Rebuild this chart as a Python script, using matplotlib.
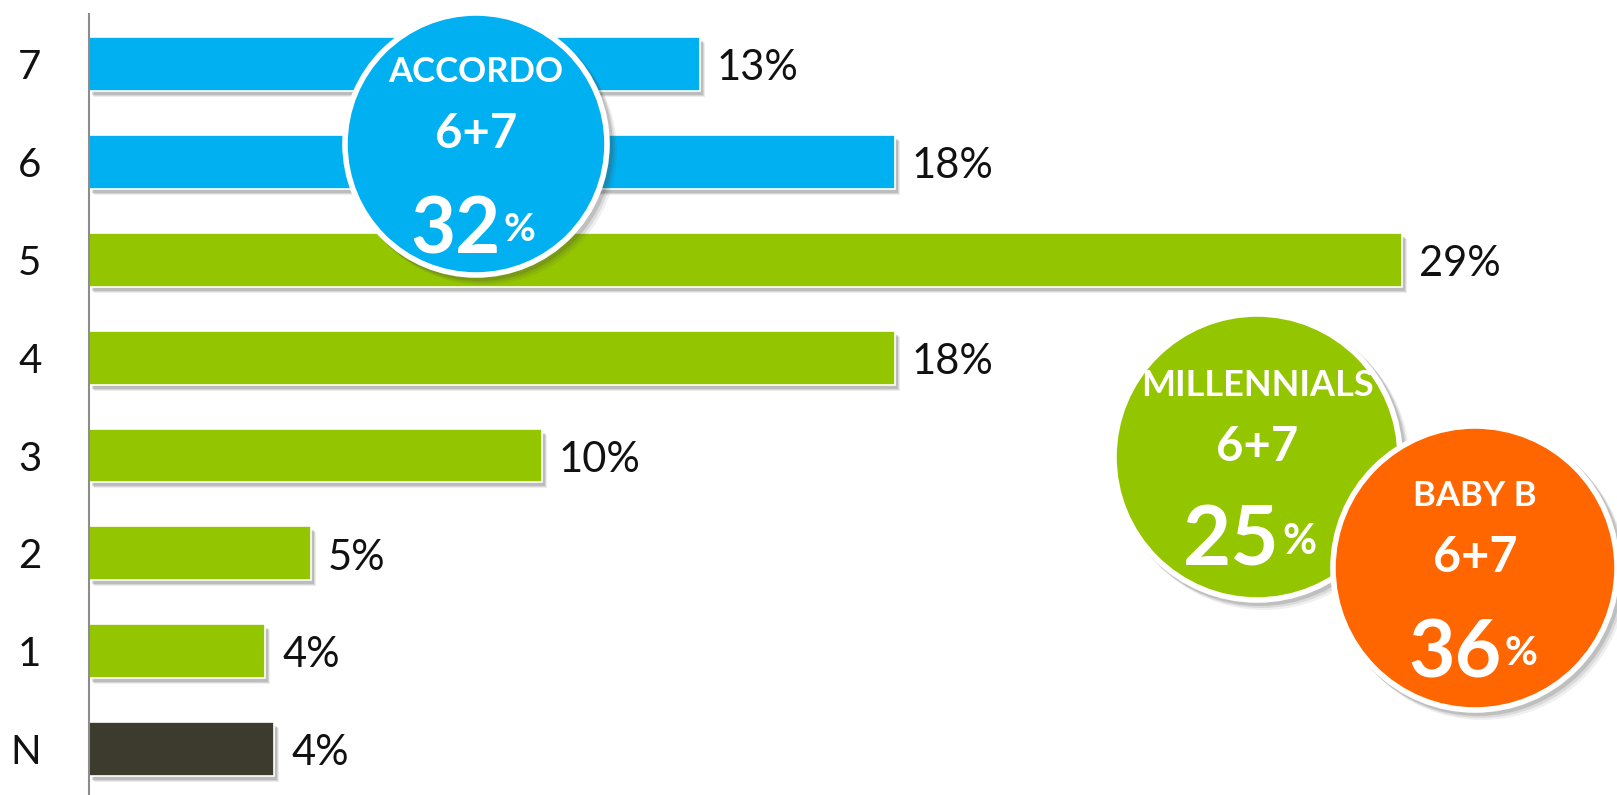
import matplotlib
matplotlib.use('Agg')
import matplotlib.pyplot as plt
import matplotlib.patches as mpatches
import matplotlib.transforms as mtransforms

plt.rcParams['font.family'] = ['Lato', 'DejaVu Sans']

# data
categories = ['7', '6', '5', '4', '3', '2', '1', 'N']
values = [13.5, 17.8, 29.0, 17.8, 10.0, 4.9, 3.9, 4.1]
value_labels = ['13%', '18%', '29%', '18%', '10%', '5%', '4%', '4%']
bar_colors = ['#00B0F0', '#00B0F0', '#94C600', '#94C600', '#94C600',
              '#94C600', '#94C600', '#3D3A2E']

# summary bubbles
bubble_titles = ['ACCORDO', 'MILLENNIALS', 'BABY B']
bubble_sub = ['6+7', '6+7', '6+7']
bubble_values = ['32', '25', '36']
bubble_colors = ['#00B0F0', '#94C600', '#FF6600']

W, H = 1617, 795
fig = plt.figure(figsize=(W / 100, H / 100), dpi=100)

# main bar axes
ax = fig.add_axes([88.7 / W, 0, 1 - 88.7 / W, 1 - 14.4 / H])
ypos = list(range(len(categories)))

# soft drop shadow under the bars
for dx, dy, a in [(5, -6, 0.10), (4, -5, 0.15), (3, -4, 0.20)]:
    off = mtransforms.offset_copy(ax.transData, fig=fig, x=dx, y=dy, units='dots')
    ax.barh(ypos, values, height=0.55, color='#555555', alpha=a,
            transform=off, zorder=1)

ax.barh(ypos, values, height=0.55, color=bar_colors, edgecolor='white',
        linewidth=1.2, zorder=2)

for y, v, lab in zip(ypos, values, value_labels):
    ax.annotate(lab, (v, y), xytext=(12, -3), textcoords='offset points',
                ha='left', va='center', fontsize=30, color='#111111')

ax.set_xlim(0, (W - 88.7) / 45.3)
ax.set_ylim(7.47, -0.51)
ax.set_yticks(ypos)
ax.set_yticklabels(categories, fontsize=29, color='#111111')
ax.tick_params(axis='y', length=0, pad=34)
ax.set_xticks([])
for s in ['top', 'right', 'bottom']:
    ax.spines[s].set_visible(False)
ax.spines['left'].set_color('#8C8C8C')
ax.spines['left'].set_linewidth(1.5)
ax.patch.set_alpha(0)

# overlay in pixel coordinates for the bubbles
ov = fig.add_axes([0, 0, 1, 1])
ov.set_xlim(0, W)
ov.set_ylim(H, 0)
ov.axis('off')
ov.patch.set_alpha(0)

centers = [(476, 144), (1257, 457), (1475, 568)]
radii = [131, 143, 142]
title_y = [72, 385, 496]
title_size = [25, 26, 25]
sub_y = [134, 447, 557]
sub_size = [34, 34, 35]
num_y = [253, 566, 677]
num_size = [56, 60, 58]
split_dx = [25, 23, 27]

for i in range(3):
    cx, cy = centers[i]
    r = radii[i]
    for dx, dy, a in [(7, 7, 0.08), (5, 5, 0.12), (3, 3, 0.18)]:
        ov.add_patch(mpatches.Circle((cx + dx, cy + dy), r + 3, color='#444444',
                                     alpha=a, lw=0, zorder=3 + 2 * i))
    ov.add_patch(mpatches.Circle((cx, cy), r, facecolor=bubble_colors[i],
                                 edgecolor='white', linewidth=4, zorder=4 + 2 * i))
    z = 4 + 2 * i + 0.5
    ov.text(cx, title_y[i], bubble_titles[i], ha='center', va='center',
            fontsize=title_size[i], fontweight='bold', color='white', zorder=z)
    ov.text(cx, sub_y[i], bubble_sub[i], ha='center', va='center',
            fontsize=sub_size[i], fontweight='bold', color='white', zorder=z)
    ov.text(cx + split_dx[i], num_y[i], bubble_values[i], ha='right',
            va='baseline', fontsize=num_size[i], fontweight='bold',
            color='white', zorder=z)
    ov.text(cx + split_dx[i] + 2, num_y[i] - 12, '%', ha='left',
            va='baseline', fontsize=num_size[i] * 0.5, fontweight='bold',
            color='white', zorder=z)

fig.savefig('out.png', dpi=100)
